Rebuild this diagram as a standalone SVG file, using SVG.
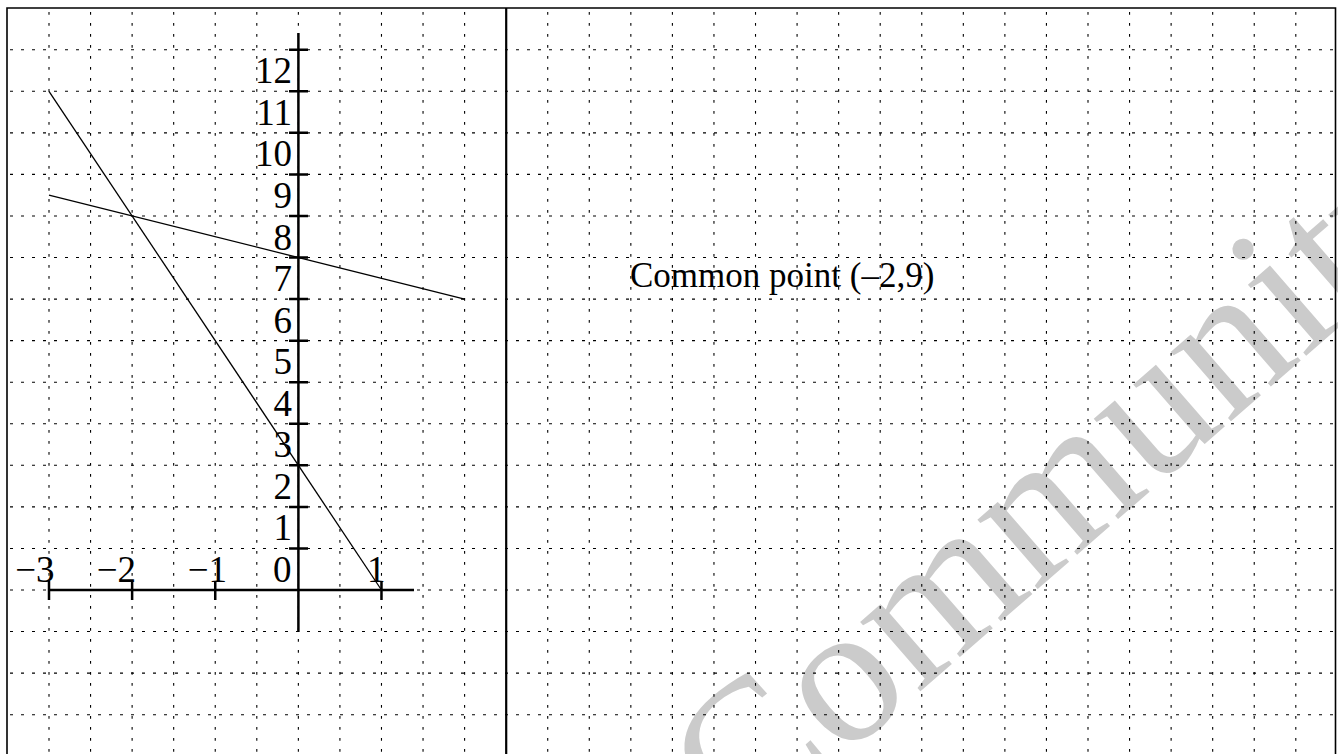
<svg xmlns="http://www.w3.org/2000/svg" width="1338" height="754" viewBox="0 0 1338 754">
<style>
.grid{stroke:#000;stroke-width:1.1;fill:none}
.gv{stroke-dasharray:2.8 8.2}
.gh{stroke-dasharray:3 8}
.axis{stroke:#000;stroke-width:2.5;fill:none}
.plot{stroke:#000;stroke-width:1.3;fill:none}
.lbl{font-family:"Liberation Serif","Times New Roman",serif;font-size:37px;fill:#000}
.yl{text-anchor:end}
.wm{font-family:"Liberation Serif","Times New Roman",serif;font-size:200px;fill:#cbcbcb}
</style>
<rect x="0" y="0" width="1338" height="754" fill="#fff"/>
<g id="watermark">
<text class="wm" transform="translate(741 847) rotate(-41)">Community</text>
</g>
<g id="grid" class="grid">
<path class="gv" d="M49 12V754M90.56 12V754M132.12 12V754M173.68 12V754M215.24 12V754M256.8 12V754M298.36 12V754M339.92 12V754M381.48 12V754M423.04 12V754M464.6 12V754M547.72 12V754M589.28 12V754M630.84 12V754M672.4 12V754M713.96 12V754M755.52 12V754M797.08 12V754M838.64 12V754M880.2 12V754M921.76 12V754M963.32 12V754M1004.88 12V754M1046.44 12V754M1088 12V754M1129.56 12V754M1171.12 12V754M1212.68 12V754M1254.24 12V754M1295.8 12V754"/>
<path class="gh" d="M10 714.68H1335M10 673.12H1335M10 631.56H1335M10 590H1335M10 548.44H1335M10 506.88H1335M10 465.32H1335M10 423.76H1335M10 382.2H1335M10 340.64H1335M10 299.08H1335M10 257.52H1335M10 215.96H1335M10 174.4H1335M10 132.84H1335M10 91.28H1335M10 49.72H1335"/>
</g>
<g id="frame">
<path d="M7 760V8H1335.5V760" fill="none" stroke="#000" stroke-width="1.6"/>
<line x1="506.2" y1="8" x2="506.2" y2="760" stroke="#000" stroke-width="2.2"/>
</g>
<g id="axes" class="axis">
<line x1="49" y1="590" x2="414" y2="590"/>
<line x1="298.4" y1="33" x2="298.4" y2="632"/>
<path d="M289 548.44H308M289 506.88H308M289 465.32H308M289 423.76H308M289 382.2H308M289 340.64H308M289 299.08H308M289 257.52H308M289 215.96H308M289 174.4H308M289 132.84H308M289 91.28H308M289 49.72H308"/>
<path d="M49 581V600M132.12 581V600M215.24 581V600M381.48 581V600"/>
</g>
<g id="connectors" class="plot">
<line id="line1" x1="49" y1="91.28" x2="381.48" y2="590"/>
<line id="line2" x1="49" y1="195.2" x2="464.6" y2="299.08"/>
</g>
<g id="ylabels" class="lbl yl">
<text x="292" y="540.4">1</text>
<text x="292" y="498.9">2</text>
<text x="292" y="457.3">3</text>
<text x="292" y="415.8">4</text>
<text x="292" y="374.2">5</text>
<text x="292" y="332.6">6</text>
<text x="292" y="291.1">7</text>
<text x="292" y="249.5">8</text>
<text x="292" y="208">9</text>
<text x="292" y="166.4">10</text>
<text x="292" y="124.8">11</text>
<text x="292" y="83.3">12</text>
</g>
<g id="xlabels" class="lbl yl">
<text x="54.6" y="582">−3</text>
<text x="136" y="582">−2</text>
<text x="227" y="582">−1</text>
<text x="291.6" y="582">0</text>
<text x="385.6" y="582">1</text>
</g>
<g id="note">
<text class="lbl" x="630" y="287" style="font-size:35px">Common point (–2,9)</text>
</g>
</svg>
